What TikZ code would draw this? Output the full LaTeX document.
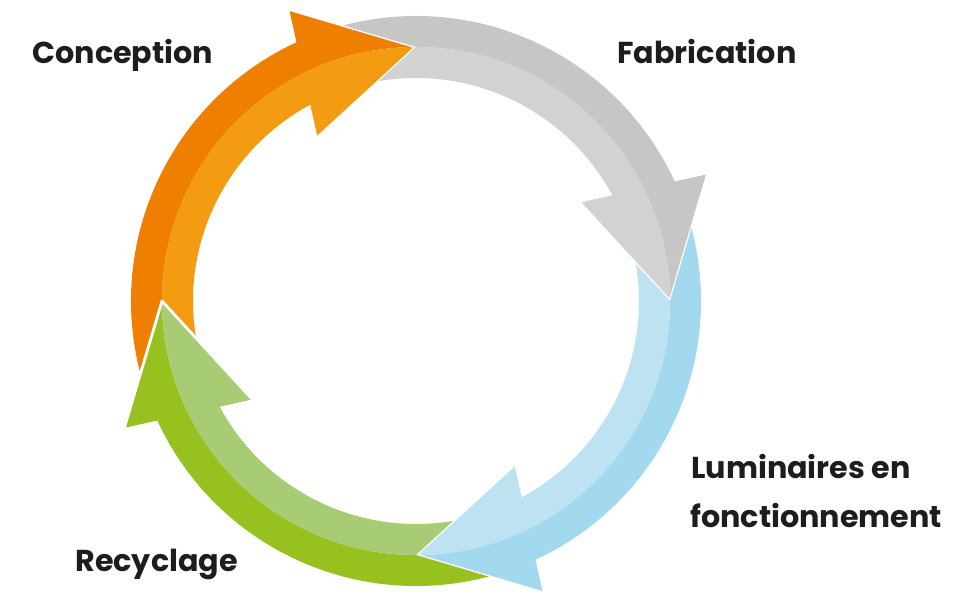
\documentclass[tikz,border=0pt]{standalone}
\usepackage{fontspec}
\setmainfont{Poppins}
\usepackage{xcolor}
\definecolor{orangeD}{RGB}{239,127,1}
\definecolor{orangeL}{RGB}{243,156,18}
\definecolor{greyD}{RGB}{198,198,197}
\definecolor{greyL}{RGB}{210,210,210}
\definecolor{blueD}{RGB}{163,217,239}
\definecolor{blueL}{RGB}{189,226,241}
\definecolor{greenD}{RGB}{151,193,31}
\definecolor{greenL}{RGB}{168,204,116}
\definecolor{txt}{RGB}{29,29,27}

\begin{document}
\begin{tikzpicture}
\useasboundingbox (-8.32,-5.88) rectangle (11.12,6.02);

% the four arrows, each one turned by a quarter
\foreach \rot/\dk/\lt in {0/orangeD/orangeL, -90/greyD/greyL, -180/blueD/blueL, -270/greenD/greenL}{
\begin{scope}[rotate=\rot]
\fill[\dk] (180:5.08) -- (194.8:5.70) arc[start angle=194.8, end angle=114.8, radius=5.70] -- (113.5:6.36) -- (90:5.08) arc[start angle=90, end angle=180, radius=5.08] -- cycle;
\fill[\lt] (180:5.08) -- (189.6:4.46) arc[start angle=189.6, end angle=118.3, radius=4.46] -- (121:3.82) -- (90:5.08) arc[start angle=90, end angle=180, radius=5.08] -- cycle;
\draw[white, line width=1.6pt, line join=round] (113.5:6.36) -- (90:5.08) -- (121:3.82);
\end{scope}
}

\node[anchor=base west, inner sep=0, font=\fontsize{17.2}{20}\bfseries, text=txt] (conc) at (-7.68,4.75) {Conception};
\node[anchor=base west, inner sep=0, font=\fontsize{17.2}{20}\bfseries, text=txt] (fab) at (4.02,4.75) {Fabrication};
\node[anchor=base west, inner sep=0, font=\fontsize{17.2}{20}\bfseries, text=txt] (lum) at (5.50,-3.54) {Luminaires en};
\node[anchor=base west, inner sep=0, font=\fontsize{17.2}{20}\bfseries, text=txt] (fonc) at (5.48,-4.52) {fonctionnement};
\node[anchor=base west, inner sep=0, font=\fontsize{17.2}{20}\bfseries, text=txt] (recy) at (-6.82,-5.40) {Recyclage};
\end{tikzpicture}
\end{document}
